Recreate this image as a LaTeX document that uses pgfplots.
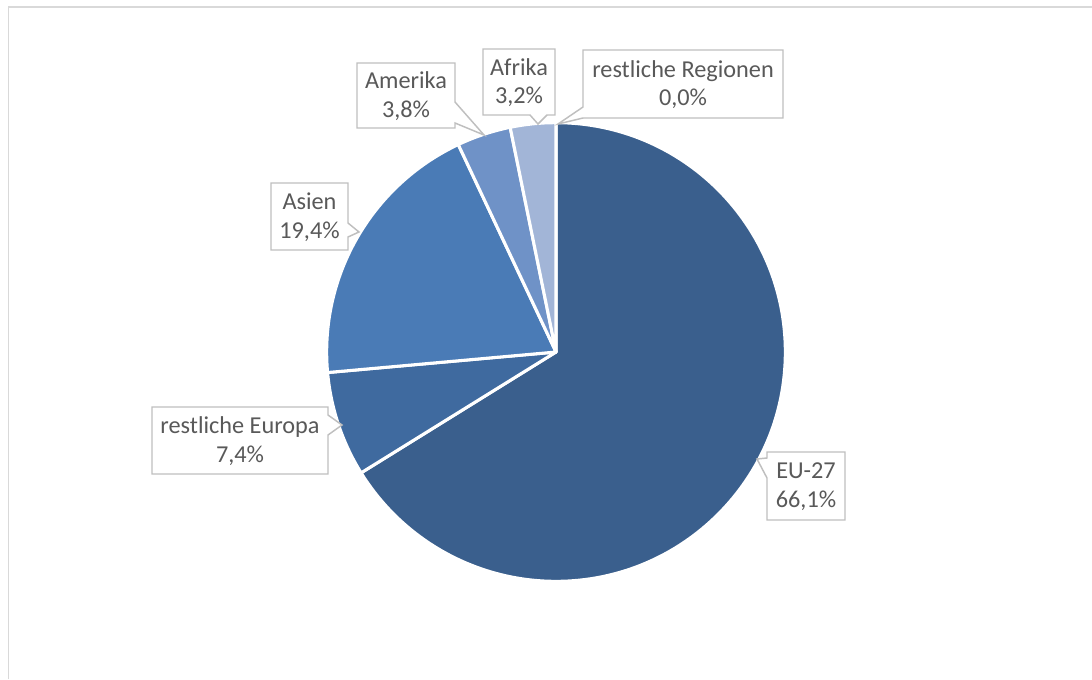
\documentclass[border=0pt]{standalone}
\usepackage{fontspec}
\setmainfont{Carlito}
\usepackage{pgfplots}
\usepackage{pgfplotstable}
\pgfplotsset{compat=1.18}
\definecolor{s0}{HTML}{3A5F8D}
\definecolor{s1}{HTML}{3F6A9F}
\definecolor{s2}{HTML}{4A7BB6}
\definecolor{s3}{HTML}{6F92C7}
\definecolor{s4}{HTML}{A2B5D7}
\definecolor{frame}{HTML}{D9D9D9}
\definecolor{boxc}{HTML}{BFBFBF}
\definecolor{txt}{HTML}{595959}
\begin{document}%
\begin{tikzpicture}
\pgfplotstableread[col sep=semicolon]{
name;share
EU-27;66.1
restliche Europa;7.4
Asien;19.4
Amerika;3.8
Afrika;3.2
restliche Regionen;0.0
}\piedata
\pgfplotstablegetrowsof{\piedata}
\pgfmathtruncatemacro\nrows{\pgfplotsretval-1}
\gdef\total{0}
\pgfplotsforeachungrouped \i in {0,...,\nrows}{%
  \pgfplotstablegetelem{\i}{share}\of\piedata
  \pgfmathsetmacro\tmpT{\total+\pgfplotsretval}%
  \xdef\total{\tmpT}%
}
\gdef\cumsum{0}
\pgfplotsforeachungrouped \i in {0,...,\nrows}{%
  \pgfplotstablegetelem{\i}{share}\of\piedata
  \pgfmathsetmacro\tmpA{90-(\cumsum/\total)*360}%
  \pgfmathsetmacro\tmpC{\cumsum+\pgfplotsretval}%
  \xdef\cumsum{\tmpC}%
  \pgfmathsetmacro\tmpB{90-(\cumsum/\total)*360}%
  \expandafter\xdef\csname angS\i\endcsname{\tmpA}%
  \expandafter\xdef\csname angE\i\endcsname{\tmpB}%
}
\begin{axis}[
  at={(0,0)}, anchor=south west,
  width=819pt, height=509.25pt, scale only axis,
  xmin=0, xmax=1092, ymin=0, ymax=679, y dir=reverse,
  hide axis, clip=false,
]
% outer frame (right and bottom edges lie outside the picture)
\draw[frame, line width=1.2pt] (axis cs:8.5,679) -- (axis cs:8.5,7) -- (axis cs:1092,7);
% slices
\pgfplotsinvokeforeach{0,...,4}{
  \filldraw[fill=s#1, draw=white, line width=2.3pt, line join=round]
    (axis cs:556,352) -- ++(\csname angS#1\endcsname:172pt)
    arc[start angle=\csname angS#1\endcsname, end angle=\csname angE#1\endcsname, radius=172pt] -- cycle;
}
% callouts
\tikzset{cbox/.style={fill=white, draw=boxc, line width=1.1pt, line join=miter}}
\tikzset{ctext/.style={text=txt, align=center, font=\fontsize{18.2}{21.5}\selectfont, inner sep=0pt}}
% Amerika
\filldraw[cbox] (axis cs:357,63) -- (axis cs:455,63) -- (axis cs:455,102) -- (axis cs:484,135) -- (axis cs:455,123) -- (axis cs:455,128) -- (axis cs:357,128) -- cycle;
\node[ctext] at (axis cs:406,96) {Amerika\\3,8\%};
% Afrika
\filldraw[cbox] (axis cs:483,49) -- (axis cs:555,49) -- (axis cs:555,115) -- (axis cs:547,115) -- (axis cs:538,124) -- (axis cs:530,115) -- (axis cs:483,115) -- cycle;
\node[ctext] at (axis cs:519,82.5) {Afrika\\3,2\%};
% restliche Regionen
\filldraw[cbox] (axis cs:583,50) -- (axis cs:783,50) -- (axis cs:783,118) -- (axis cs:583,118) -- (axis cs:558,124) -- (axis cs:583,107) -- cycle;
\node[ctext] at (axis cs:683,84.5) {restliche Regionen\\0,0\%};
% Asien
\filldraw[cbox] (axis cs:271,183) -- (axis cs:348,183) -- (axis cs:348,223) -- (axis cs:359,232) -- (axis cs:348,237) -- (axis cs:348,250) -- (axis cs:271,250) -- cycle;
\node[ctext] at (axis cs:309.5,217) {Asien\\19,4\%};
% restliche Europa
\filldraw[cbox] (axis cs:152,407) -- (axis cs:328,407) -- (axis cs:328,415) -- (axis cs:342,425) -- (axis cs:328,435) -- (axis cs:328,474) -- (axis cs:152,474) -- cycle;
\node[ctext] at (axis cs:240,441) {restliche Europa\\7,4\%};
% EU-27
\filldraw[cbox] (axis cs:767,452) -- (axis cs:845,452) -- (axis cs:845,520) -- (axis cs:767,520) -- (axis cs:767,478) -- (axis cs:757,459) -- (axis cs:767,458) -- cycle;
\node[ctext] at (axis cs:806,486.5) {EU-27\\66,1\%};
\end{axis}
\pgfresetboundingbox
\useasboundingbox (0,0) rectangle (819pt,509.25pt);
\end{tikzpicture}%
\end{document}
